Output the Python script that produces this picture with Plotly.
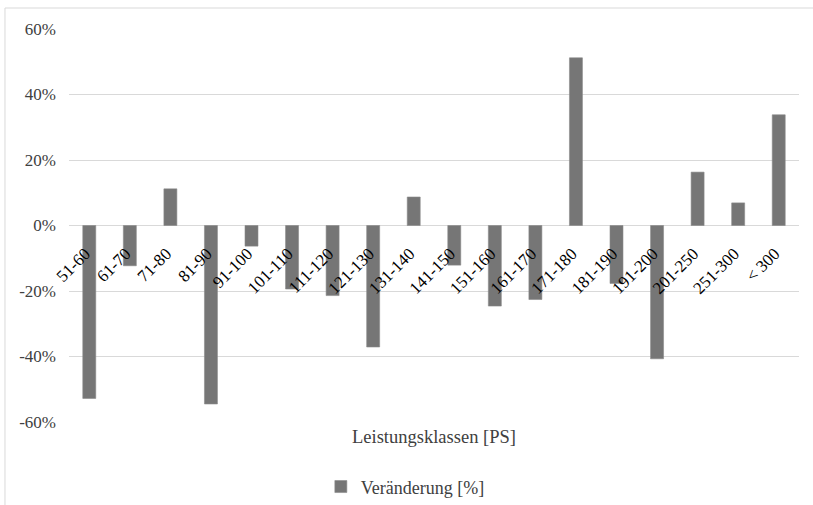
import plotly.graph_objects as go

categories = ["51-60", "61-70", "71-80", "81-90", "91-100", "101-110", "111-120",
              "121-130", "131-140", "141-150", "151-160", "161-170", "171-180",
              "181-190", "191-200", "201-250", "251-300", "< 300"]
change_pct = [-52.8, -12.3, 11.2, -54.5, -6.3, -19.4, -21.4, -37.1, 8.7, -12.1,
              -24.6, -22.6, 51.2, -17.7, -40.7, 16.3, 6.9, 33.8]
y_tickvals = [-60, -40, -20, 0, 20, 40, 60]
y_ticktext = ["-60%", "-40%", "-20%", "0%", "20%", "40%", "60%"]

FONT = "Liberation Serif"
TXT = "#404040"

fig = go.Figure()
fig.add_trace(go.Bar(
    x=categories, y=change_pct, name="Veränderung [%]",
    marker=dict(color="#767676", line=dict(color="#8a8a8a", width=0.6)),
))

fig.update_layout(
    width=813, height=505,
    margin=dict(l=69, r=14, t=29, b=83, autoexpand=False),
    paper_bgcolor="white", plot_bgcolor="white",
    font=dict(family=FONT, size=16, color=TXT),
    bargap=0.68,
    showlegend=True,
    legend=dict(orientation="h", x=0.345, xanchor="left", y=-0.165, yanchor="middle",
                font=dict(family=FONT, size=18, color=TXT)),
    xaxis=dict(type="category", anchor="free", position=0.5, tickangle=-45,
               showline=False, showgrid=False, ticks="", zeroline=False,
               ticklabelstandoff=14, ticklabelshift=-4,
               tickfont=dict(family=FONT, size=17, color="#000000")),
    yaxis=dict(range=[-60, 60], tickvals=y_tickvals, ticktext=y_ticktext,
               showgrid=True, gridcolor="#d9d9d9", gridwidth=1,
               zeroline=True, zerolinecolor="#d9d9d9", zerolinewidth=1,
               showline=False, ticks="", ticklen=0, ticklabelstandoff=12,
               tickfont=dict(family=FONT, size=17, color=TXT)),
    annotations=[dict(text="Leistungsklassen [PS]", x=0.5, y=-0.038,
                      xref="paper", yref="paper", xanchor="center", yanchor="middle",
                      showarrow=False, font=dict(family=FONT, size=18.5, color=TXT))],
    shapes=[dict(type="rect", xref="paper", yref="paper",
                 x0=-0.0877, x1=1.2, y0=-0.4, y1=1.0534,
                 line=dict(color="#d9d9d9", width=1), fillcolor="rgba(0,0,0,0)",
                 layer="below")],
)

fig.write_html("out.html", config={"displayModeBar": False},
               post_script="document.body.style.margin='0';document.body.style.overflow='hidden';")
